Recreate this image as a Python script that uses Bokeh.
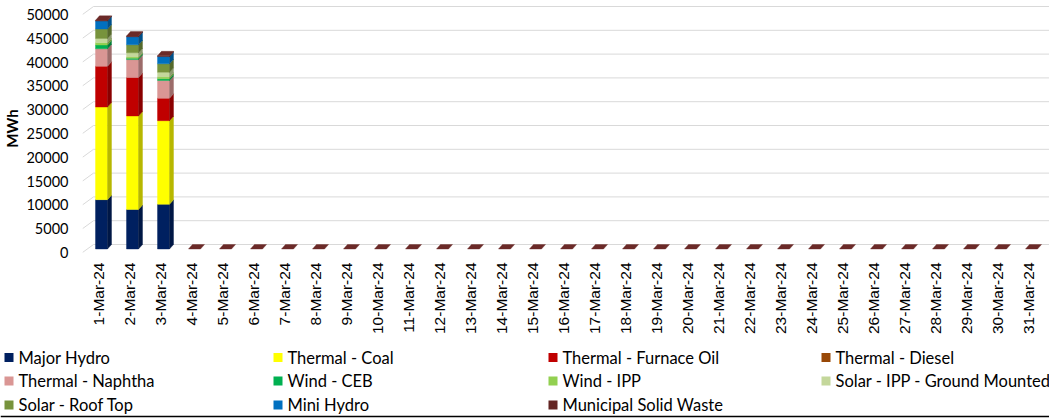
import numpy as np
from bokeh.plotting import figure
from bokeh.layouts import column
from bokeh.models import ColumnDataSource, Range1d, LinearAxis, FixedTicker
from bokeh.core.properties import value
from bokeh.embed import file_html
from bokeh.resources import INLINE

# ---------------- data (MWh per day) ----------------
days = list(range(1, 32))
day_labels = [f"{d}-Mar-24" for d in days]

series_names = ["Major Hydro", "Thermal - Coal", "Thermal - Furnace Oil",
                "Thermal - Diesel", "Thermal - Naphtha", "Wind - CEB",
                "Wind - IPP", "Solar - IPP - Ground Mounted",
                "Solar - Roof Top", "Mini Hydro", "Municipal Solid Waste"]

major_hydro = [10500, 8400, 9500] + [0] * 28
thermal_coal = [19700, 19900, 17800] + [0] * 28
thermal_furnace_oil = [8700, 8200, 4800] + [0] * 28
thermal_diesel = [0, 0, 0] + [0] * 28
thermal_naphtha = [3700, 3800, 3750] + [0] * 28
wind_ceb = [800, 300, 350] + [0] * 28
wind_ipp = [500, 250, 400] + [0] * 28
solar_ipp_ground = [900, 900, 1000] + [0] * 28
solar_roof_top = [2000, 1700, 1800] + [0] * 28
mini_hydro = [1700, 1700, 1550] + [0] * 28
municipal_solid_waste = [150, 150, 150] + [0] * 28

series_values = [major_hydro, thermal_coal, thermal_furnace_oil, thermal_diesel,
                 thermal_naphtha, wind_ceb, wind_ipp, solar_ipp_ground,
                 solar_roof_top, mini_hydro, municipal_solid_waste]

colors = ["#002060", "#FFFF00", "#C00000", "#984807", "#DA9694", "#00B050",
          "#92D050", "#C4D79B", "#77933C", "#0070C0", "#632523"]

y_ticks = list(range(0, 50001, 5000))

# ---------------- layout constants (pixels) ----------------
W = 1049
H_MAIN, H_LEG = 340, 78
FL = 82                          # frame left
FB = 256                         # frame bottom (from top)
FW = W - FL
FH = FB
PX_X = 31.0                      # px per category
S_BAR = 0.0047                   # px per MWh for bars
S_AX = 0.00476                   # px per MWh for the wall / axis labels

x_start = 1 - 19 / PX_X
x_end = x_start + FW / PX_X
y_start = -(FB - 248.5) / S_BAR
y_end = y_start + FH / S_BAR
ax_start = -(FB - 252) / S_AX
ax_end = ax_start + FH / S_AX

bar_w = 12 / PX_X
dx = 4 / PX_X
dy = 4.5 / S_BAR
wall_dx = 11 / PX_X
wall_dy = 8 / S_AX


def darker(hex_color, f=0.72):
    h = hex_color.lstrip("#")
    r, g, b = (int(h[i:i + 2], 16) for i in (0, 2, 4))
    return "#%02x%02x%02x" % (int(r * f), int(g * f), int(b * f))


p = figure(width=W, height=H_MAIN, output_backend="svg", toolbar_location=None,
           x_range=Range1d(x_start, x_end), y_range=Range1d(y_start, y_end),
           x_axis_location=None, y_axis_location=None,
           min_border_left=FL, min_border_right=0, min_border_top=0,
           min_border_bottom=H_MAIN - FB)
p.extra_x_ranges = {"lab": Range1d(x_start + 3 / PX_X, x_end + 3 / PX_X)}
p.extra_y_ranges = {"ax": Range1d(ax_start, ax_end)}
p.outline_line_color = None
p.background_fill_color = "white"
p.border_fill_color = "white"
p.grid.visible = False

# ---- back wall gridlines and side-wall diagonals ----
gt = np.array(y_ticks, dtype=float)
p.segment(x0=[x_start + wall_dx] * len(gt), y0=gt + wall_dy,
          x1=[x_end] * len(gt), y1=gt + wall_dy, y_range_name="ax",
          line_color="#D9D9D9", line_width=1)
p.segment(x0=[x_start] * len(gt), y0=gt, x1=[x_start + wall_dx] * len(gt),
          y1=gt + wall_dy, y_range_name="ax", line_color="#D9D9D9", line_width=1)

# ---- stacked 3D-looking bars ----
x = np.array(days, dtype=float)
bottom = np.zeros(len(days))
for name, vals, col in zip(series_names, series_values, colors):
    v = np.array(vals, dtype=float)
    top = bottom + v
    nz = v > 0
    src = ColumnDataSource(dict(x=x[nz], bottom=bottom[nz], top=top[nz]))
    p.vbar(x="x", bottom="bottom", top="top", width=bar_w, source=src,
           fill_color=col, line_color=col, line_width=0.4)
    xs, ys = [], []
    for xi, b0, t0 in zip(x[nz], bottom[nz], top[nz]):
        xr = xi + bar_w / 2
        xs.append([xr, xr + dx, xr + dx, xr])
        ys.append([b0, b0 + dy, t0 + dy, t0])
    if xs:
        p.patches(xs=xs, ys=ys, fill_color=darker(col), line_color=darker(col),
                  line_width=0.4)
    bottom = top

# top faces (last series colour)
txs, tys = [], []
for xi, t0 in zip(x, bottom):
    xl, xr = xi - bar_w / 2, xi + bar_w / 2
    txs.append([xl, xr, xr + dx, xl + dx])
    tys.append([t0, t0, t0 + dy, t0 + dy])
p.patches(xs=txs, ys=tys, fill_color="#6B2A28", line_color="#6B2A28",
          line_width=0.4)

# ---- axes ----
xaxis = LinearAxis(x_range_name="lab", ticker=FixedTicker(ticks=days))
xaxis.major_label_overrides = {d: lab for d, lab in zip(days, day_labels)}
xaxis.major_label_orientation = np.pi / 2
xaxis.major_label_text_font = "Liberation Sans"
xaxis.major_label_text_font_size = "15.5px"
xaxis.major_label_text_color = "#000000"
xaxis.major_label_standoff = 6
xaxis.axis_line_color = None
xaxis.major_tick_line_color = None
xaxis.minor_tick_line_color = None
xaxis.major_tick_out = 0
xaxis.major_tick_in = 0
p.add_layout(xaxis, "below")

yaxis = LinearAxis(y_range_name="ax", ticker=FixedTicker(ticks=y_ticks))
yaxis.major_label_overrides = {t: str(t) for t in y_ticks}
yaxis.major_label_text_font = "Lato"
yaxis.major_label_text_font_size = "14.5px"
yaxis.major_label_text_color = "#000000"
yaxis.major_label_standoff = 14
yaxis.axis_line_color = None
yaxis.major_tick_line_color = None
yaxis.minor_tick_line_color = None
yaxis.major_tick_out = 0
yaxis.major_tick_in = 0
yaxis.axis_label = "MWh"
yaxis.axis_label_text_font = "Lato"
yaxis.axis_label_text_font_style = "bold"
yaxis.axis_label_text_font_size = "15px"
yaxis.axis_label_text_color = "#000000"
yaxis.axis_label_standoff = 2
p.add_layout(yaxis, "left")

# ---- legend (separate strip below the chart) ----
leg_col_x = [4, 273, 548, 821]
leg_row_y = [357, 380.5, 404.5]
q = figure(width=W, height=H_LEG, output_backend="svg", toolbar_location=None,
           x_range=Range1d(0, W), y_range=Range1d(H_MAIN + H_LEG, H_MAIN),
           x_axis_location=None, y_axis_location=None,
           min_border=0, outline_line_color=None)
q.grid.visible = False
q.border_fill_color = "white"
for fig in (p, q):
    if "frame_align" in fig.properties():
        fig.frame_align = False
lx, ly, lt, lc = [], [], [], []
for i, (name, col) in enumerate(zip(series_names, colors)):
    r, c = divmod(i, 4)
    lx.append(leg_col_x[c])
    ly.append(leg_row_y[r])
    lt.append(name)
    lc.append(col)
lsrc = ColumnDataSource(dict(xc=[xv + 4.5 for xv in lx], y=ly, t=lt, c=lc,
                             xt=[xv + 14 for xv in lx]))
q.rect(x="xc", y="y", width=9, height=9, width_units="screen",
       height_units="screen", fill_color="c", line_color=None, source=lsrc)
q.text(x="xt", y="y", text="t", source=lsrc, text_font=value("Lato"),
       text_font_size="16.5px", text_baseline="middle", text_align="left",
       text_color="#000000")
q.segment(x0=[0], y0=[416], x1=[W], y1=[416], line_color="#000000",
          line_width=1.5)

open("out.html", "w").write(file_html(column(p, q), INLINE))
